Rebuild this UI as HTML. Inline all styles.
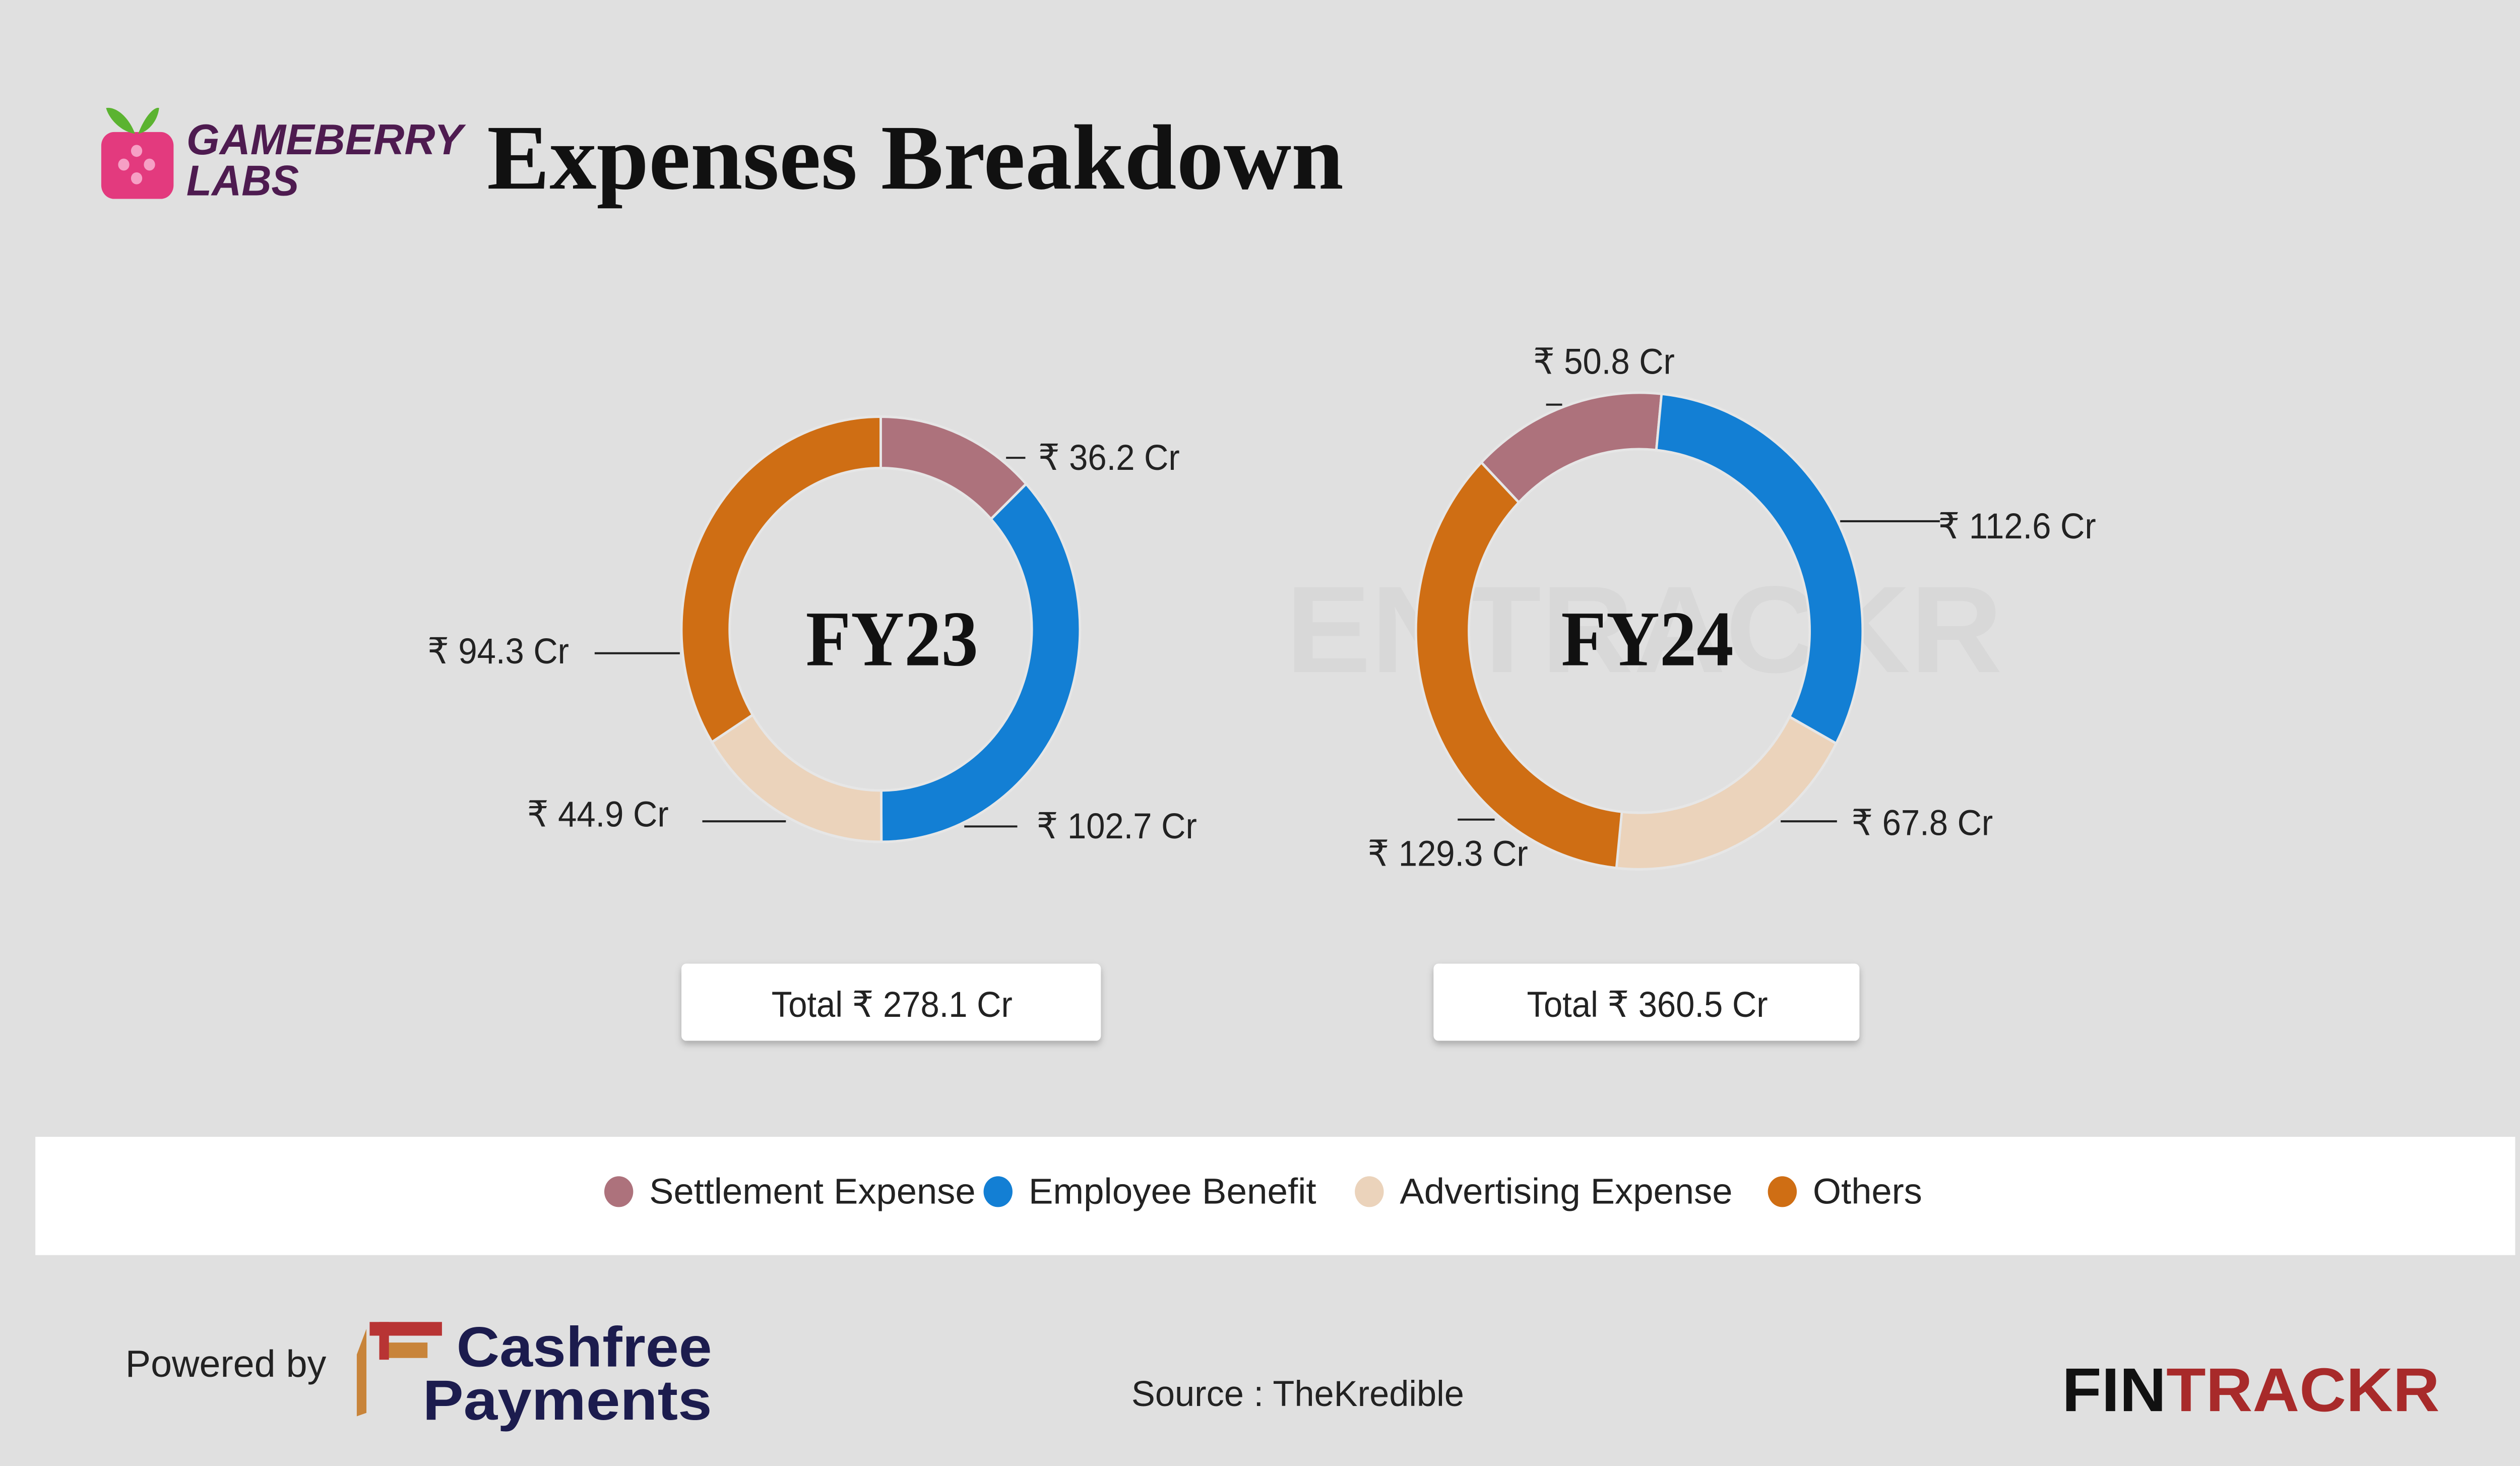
<!DOCTYPE html>
<html><head><meta charset="utf-8"><style>
html,body{margin:0;padding:0;background:#e0e0e0;overflow:hidden;width:100vw;height:100vh;}
svg{display:block;position:absolute;left:0;top:0;width:100vw;height:100vh;}
.s{font-family:"Liberation Sans","DejaVu Sans",sans-serif;}
.r{font-family:"Liberation Serif",serif;font-weight:bold;}
</style></head><body>
<svg id="c" viewBox="0 0 1568 855" preserveAspectRatio="none" xmlns="http://www.w3.org/2000/svg">
<defs><filter id="sh" x="-10%" y="-30%" width="120%" height="160%"><feDropShadow dx="0" dy="2" stdDeviation="2" flood-color="#000" flood-opacity="0.25"/></filter></defs>
<rect width="1568" height="855" fill="#e0e0e0"/>
<rect x="63" y="77" width="45" height="39" rx="8" fill="#e33a7e"/>
<path d="M84 78 C80 68 72 62 66 63 C68 70 76 77 84 78Z" fill="#5bb330"/>
<path d="M86 78 C90 68 96 62 99 63 C98 71 92 77 86 78Z" fill="#5bb330"/>
<circle cx="85" cy="88" r="3.5" fill="#f6a0c5"/><circle cx="77" cy="96" r="3.5" fill="#f6a0c5"/><circle cx="93" cy="96" r="3.5" fill="#f6a0c5"/><circle cx="85" cy="104" r="3.5" fill="#f6a0c5"/>
<text x="116" y="90" class="s" font-size="25" font-weight="bold" font-style="italic" fill="#4e1b50" textLength="172" lengthAdjust="spacingAndGlyphs">GAMEBERRY</text>
<text x="116" y="114" class="s" font-size="25" font-weight="bold" font-style="italic" fill="#4e1b50" textLength="70" lengthAdjust="spacingAndGlyphs">LABS</text>
<text x="303" y="110" class="r" font-size="54" fill="#111" textLength="533" lengthAdjust="spacingAndGlyphs">Expenses Breakdown</text>
<text x="800" y="392" class="s" font-size="72" font-weight="bold" fill="#d8d8d8" textLength="446" lengthAdjust="spacingAndGlyphs">ENTRACKR</text>
<g id="d"></g>
<text x="555" y="388" text-anchor="middle" class="r" font-size="46" fill="#111">FY23</text>
<text x="1025" y="388" text-anchor="middle" class="r" font-size="46" fill="#111">FY24</text>
<g stroke="#222" stroke-width="1.2">
<line x1="626" y1="267" x2="638" y2="267"/><line x1="370" y1="381" x2="423" y2="381"/>
<line x1="437" y1="479" x2="489" y2="479"/><line x1="600" y1="482" x2="633" y2="482"/>
<line x1="962" y1="236" x2="972" y2="236"/><line x1="1145" y1="304" x2="1207" y2="304"/>
<line x1="1108" y1="479" x2="1143" y2="479"/><line x1="907" y1="478" x2="930" y2="478"/>
</g>
<g class="s" font-size="21" fill="#222">
<text x="646" y="274">₹ 36.2 Cr</text><text x="266" y="387">₹ 94.3 Cr</text>
<text x="328" y="482">₹ 44.9 Cr</text><text x="645" y="489">₹ 102.7 Cr</text>
<text x="954" y="218">₹ 50.8 Cr</text><text x="1206" y="314">₹ 112.6 Cr</text>
<text x="1152" y="487">₹ 67.8 Cr</text><text x="851" y="505">₹ 129.3 Cr</text>
</g>
<rect x="424" y="562" width="261" height="45" rx="3" fill="#fff" filter="url(#sh)"/>
<rect x="892" y="562" width="265" height="45" rx="3" fill="#fff" filter="url(#sh)"/>
<text x="555" y="593" text-anchor="middle" class="s" font-size="21" fill="#222">Total ₹ 278.1 Cr</text>
<text x="1025" y="593" text-anchor="middle" class="s" font-size="21" fill="#222">Total ₹ 360.5 Cr</text>
<rect x="22" y="663" width="1543" height="69" fill="#fff"/>
<g class="s" font-size="21" fill="#222">
<circle cx="385" cy="695" r="9" fill="#ad727c"/><text x="404" y="702" textLength="203" lengthAdjust="spacingAndGlyphs">Settlement Expense</text>
<circle cx="621" cy="695" r="9" fill="#137fd4"/><text x="640" y="702" textLength="179" lengthAdjust="spacingAndGlyphs">Employee Benefit</text>
<circle cx="852" cy="695" r="9" fill="#ebd3bb"/><text x="871" y="702" textLength="207" lengthAdjust="spacingAndGlyphs">Advertising Expense</text>
<circle cx="1109" cy="695" r="9" fill="#cf6e14"/><text x="1128" y="702" textLength="68" lengthAdjust="spacingAndGlyphs">Others</text>
</g>
<text x="78" y="803" class="s" font-size="22" fill="#222" textLength="125" lengthAdjust="spacingAndGlyphs">Powered by</text>
<path d="M228 775 L228 824 L222 826 L222 790 Z" fill="#c8843a"/>
<rect x="230" y="771" width="45" height="8" fill="#b83434"/>
<rect x="236" y="783" width="30" height="9" fill="#c8843a"/>
<rect x="236" y="771" width="6" height="22" fill="#b83434"/>
<text x="284" y="797" class="s" font-size="33" font-weight="bold" fill="#1c1c4e" textLength="159" lengthAdjust="spacingAndGlyphs">Cashfree</text>
<text x="263" y="828" class="s" font-size="33" font-weight="bold" fill="#1c1c4e" textLength="180" lengthAdjust="spacingAndGlyphs">Payments</text>
<text x="704" y="820" class="s" font-size="21" fill="#222" textLength="207" lengthAdjust="spacingAndGlyphs">Source : TheKredible</text>
<text x="1283" y="823" class="s" font-size="36" font-weight="bold" fill="#111" textLength="235" lengthAdjust="spacingAndGlyphs">FIN<tspan fill="#a82a2a">TRACKR</tspan></text>
</svg>
<script>
var cols=["#ad727c","#137fd4","#ebd3bb","#cf6e14"];
function donut(cx,cy,R,r,vals,start){
 var t=vals.reduce(function(a,b){return a+b},0),a=start,s="";
 vals.forEach(function(v,i){
  var b=a+v/t*360;
  function p(rad,ang){var q=(ang-90)*Math.PI/180;return [cx+rad*Math.cos(q),cy+rad*Math.sin(q)];}
  var l=(b-a)>180?1:0,p1=p(R,a),p2=p(R,b),p3=p(r,b),p4=p(r,a);
  s+='<path d="M'+p1+' A'+R+' '+R+' 0 '+l+' 1 '+p2+' L'+p3+' A'+r+' '+r+' 0 '+l+' 0 '+p4+' Z" fill="'+cols[i]+'" stroke="#e6e6e6" stroke-width="1.5"/>';
  a=b;});
 return s;}
document.getElementById("d").innerHTML=donut(548,367,124,94,[36.2,102.7,44.9,94.3],0)+donut(1020,368,139,106,[50.8,112.6,67.8,129.3],-45);
</script>
</body></html>
